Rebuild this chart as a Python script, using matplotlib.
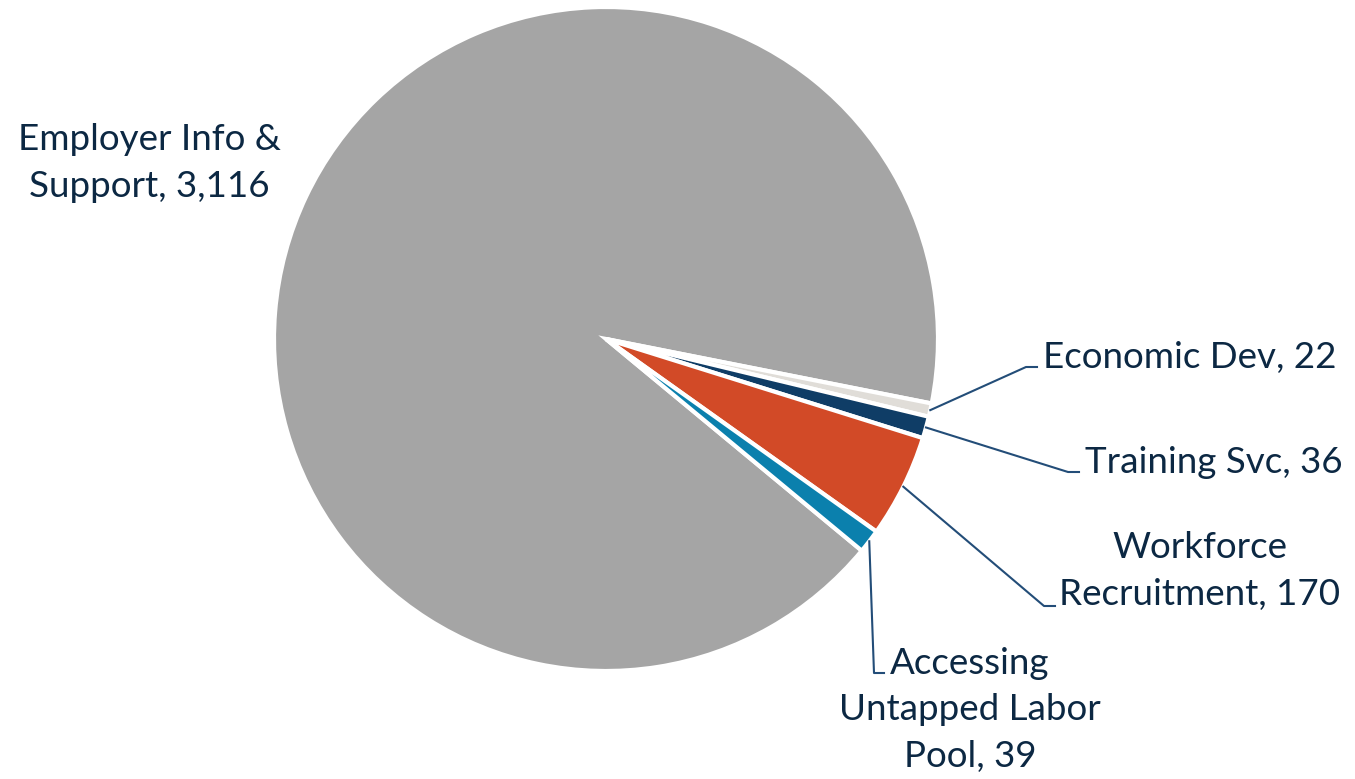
import numpy as np
import matplotlib
matplotlib.use("Agg")
import matplotlib.pyplot as plt

# data
categories = ["Employer Info &\nSupport", "Economic Dev", "Training Svc",
              "Workforce\nRecruitment", "Accessing\nUntapped Labor\nPool"]
values = [3116, 22, 36, 170, 39]
colors = ["#a5a5a5", "#e0ddd8", "#0f3d66", "#d24a27", "#0b80ad"]

# label layout (pixel coords, y down) : text pos, alignment, elbow point
label_pos = [(149, 163), (1043, 357), (1085, 462), (1200, 571), (970, 710)]
label_ha = ["center", "left", "left", "center", "center"]
elbows = [None, (1026, 367), (1068, 472), (1044, 606), (874, 673)]
elbow_ends = [None, (1037, 367), (1079, 472), (1055, 606), (884, 673)]

W, H = 1355, 779
text_color = "#0c2843"
line_color = "#234d78"
plt.rcParams['font.family'] = ['Lato', 'DejaVu Sans']

fig = plt.figure(figsize=(W / 100, H / 100), dpi=100)
ax = fig.add_axes([0, 0, 1, 1])

cx, cy, r = 606, H - 339, 332
total = sum(values)
start = -11.2 + values[0] / total * 360

wedges, _ = ax.pie(values, colors=colors, center=(cx, cy), radius=r,
                   startangle=start, counterclock=False,
                   wedgeprops=dict(edgecolor="white", linewidth=3),
                   frame=True)
ax.set_xlim(0, W)
ax.set_ylim(0, H)
ax.set_aspect("equal")
ax.axis("off")

for i, w in enumerate(wedges):
    txt = categories[i] + ", " + f"{values[i]:,}"
    tx, ty = label_pos[i]
    ax.text(tx, H - ty, txt, ha=label_ha[i], va="center", fontsize=26.5,
            color=text_color, linespacing=1.5)
    if elbows[i] is None:
        continue
    mid = np.deg2rad((w.theta1 + w.theta2) / 2)
    sx, sy = cx + r * np.cos(mid), cy + r * np.sin(mid)
    ex, ey = elbows[i]
    fx, fy = elbow_ends[i]
    ax.plot([sx, ex, fx], [sy, H - ey, H - fy], color=line_color, lw=1.5)

fig.savefig("out.png", dpi=100, facecolor="white")
